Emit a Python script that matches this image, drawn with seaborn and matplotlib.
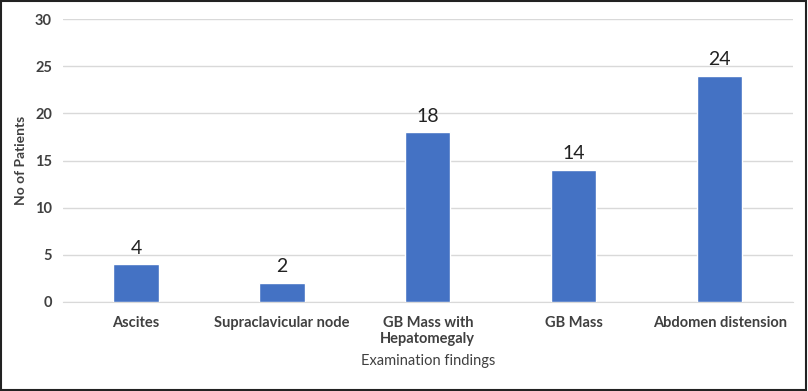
import matplotlib
matplotlib.use("Agg")
import matplotlib.pyplot as plt
import seaborn as sns
import pandas as pd

# data
findings = ['Ascites', 'Supraclavicular node', 'GB Mass with\nHepatomegaly', 'GB Mass', 'Abdomen distension']
patients = [4, 2, 18, 14, 24]

df = pd.DataFrame({'Finding': findings, 'Patients': patients})

sns.set_style("white")
plt.rcParams['font.family'] = ['Lato', 'DejaVu Sans']

fig, ax = plt.subplots(figsize=(8.08, 3.91), dpi=100)
fig.subplots_adjust(left=0.078, right=0.981, top=0.951, bottom=0.228)

sns.barplot(data=df, x='Finding', y='Patients', color='#4472C4', width=0.31,
            saturation=1, ax=ax, zorder=3)

ax.set_ylim(0, 30)
ax.set_yticks(range(0, 31, 5))
ax.yaxis.grid(True, color='#D9D9D9', linewidth=1, zorder=0)
ax.set_axisbelow(True)
for s in ['top', 'right', 'left']:
    ax.spines[s].set_visible(False)
ax.spines['bottom'].set_color('#D9D9D9')
ax.tick_params(axis='y', length=0, labelsize=10.5, labelcolor='#404040', pad=8)
ax.tick_params(axis='x', length=0, labelsize=10.5, labelcolor='#404040', pad=10)
for lab in ax.get_xticklabels() + ax.get_yticklabels():
    lab.set_fontweight('bold')

for i, v in enumerate(patients):
    ax.text(i, v + 0.8, str(v), ha='center', va='bottom', fontsize=14, color='#222222')

ax.set_xlabel('Examination findings', fontsize=10.5, color='#404040', labelpad=6)
ax.set_ylabel('No of Patients', fontsize=10, fontweight='bold', color='#404040', labelpad=6)

# figure border
fig.patches.append(plt.Rectangle((0.001, 0.002), 0.997, 0.996, transform=fig.transFigure,
                                 fill=False, edgecolor='#222222', linewidth=1.5))

fig.savefig('out.png', dpi=100)
